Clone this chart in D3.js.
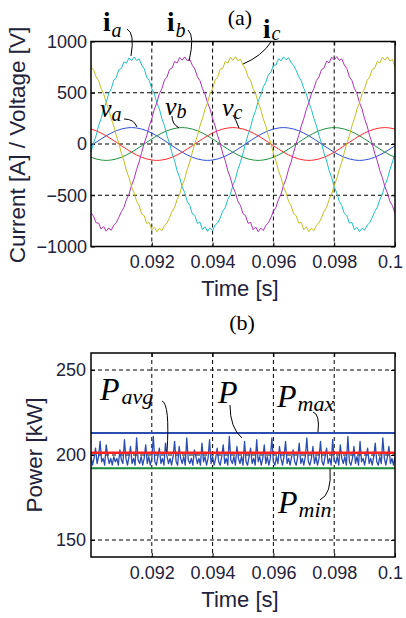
<!DOCTYPE html>
<html><head><meta charset="utf-8">
<script src="https://cdn.jsdelivr.net/npm/d3@7"></script>
<style>body{margin:0;background:#fff}svg{display:block}</style>
</head><body><svg id="c" width="406" height="618"></svg>
<script>
// ---------- data ----------
const tStart = 0.09, tEnd = 0.1;
// currents sampled 120 intervals over the window
const ia = [-80,8,80,178,248,340,402,494,540,622,
650,725,738,802,788,840,812,848,815,830,
770,735,652,620,538,490,400,342,246,178,
80,6,-92,-164,-262,-326,-420,-474,-562,-600,
-682,-698,-775,-762,-835,-808,-852,-818,-845,-790,
-770,-722,-655,-620,-540,-494,-402,-342,-246,-178,
-92,5,92,164,260,328,418,476,558,602,
676,700,768,770,832,812,850,822,842,795,
765,718,656,616,542,488,404,338,248,176,
82,4,-90,-166,-258,-328,-418,-476,-560,-602,
-680,-700,-772,-765,-838,-812,-855,-822,-840,-792,
-768,-720,-658,-618,-545,-490,-405,-340,-250,-175,
-88];
const ib = [-672,-705,-768,-772,-830,-805,-850,-820,-842,-792,
-766,-715,-660,-618,-542,-490,-404,-340,-248,-176,
-82,6,80,176,248,340,402,492,540,624,
652,728,740,805,790,845,818,850,812,826,
768,732,655,618,540,488,402,340,246,176,
80,6,-92,-164,-260,-328,-418,-476,-560,-600,
-680,-698,-774,-765,-836,-810,-855,-820,-845,-795,
-768,-720,-656,-618,-542,-490,-402,-340,-246,-176,
-80,6,82,176,250,338,405,490,542,620,
655,726,742,808,792,848,820,852,815,830,
770,735,654,620,540,490,402,340,246,176,
80,5,-90,-165,-258,-328,-416,-478,-560,-602,
-678];
const ic = [742,728,655,618,540,490,402,340,246,176,
80,6,-92,-164,-260,-328,-418,-476,-560,-600,
-682,-700,-776,-766,-838,-812,-856,-822,-846,-794,
-770,-720,-656,-618,-542,-490,-402,-340,-246,-176,
-80,6,80,176,248,340,402,492,540,624,
652,730,738,806,788,846,816,852,812,828,
768,732,655,618,540,490,402,340,246,176,
80,6,-92,-164,-260,-328,-418,-476,-560,-602,
-680,-700,-772,-766,-836,-810,-855,-822,-844,-792,
-768,-720,-656,-618,-542,-490,-404,-340,-248,-176,
-82,6,80,176,248,340,402,492,540,622,
652,728,740,805,790,848,818,850,810,826,
752];
// voltages sampled 60 intervals over the window
const va = [-17,17,49,80,107,129,146,156,160,156,146,129,107,80,49,17,-17,-49,-80,-107,-129,-146,-156,-160,-156,-146,-129,-107,-80,-49,-17,
17,49,80,107,129,146,156,160,156,146,129,107,80,49,17,-17,-49,-80,-107,-129,-146,-156,-160,-156,-146,-129,-107,-80,-49,-17];
const vb = [-129,-146,-156,-160,-156,-146,-129,-107,-80,-49,
-17,17,49,80,107,129,146,156,160,156,146,129,107,80,49,17,-17,-49,-80,-107,-129,-146,-156,-160,-156,-146,-129,-107,-80,-49,-17,
17,49,80,107,129,146,156,160,156,146,129,107,80,49,17,-17,-49,-80,-107,-129];
const vc = [146,129,107,80,49,17,-17,-49,-80,-107,-129,-146,-156,-160,-156,-146,-129,-107,-80,-49,-17,
17,49,80,107,129,146,156,160,156,146,129,107,80,49,17,-17,-49,-80,-107,-129,-146,-156,-160,-156,-146,-129,-107,-80,-49,-17,
17,49,80,107,129,146,156,160,156,146];
// power sampled 200 intervals over the window
const P = [199,194,198,204,195,199,208,196,198,194,206,199,195,198,194,199,196,
198,194,203,197,195,209,198,194,199,205,195,198,194,210,197,195,199,
194,198,206,195,199,194,198,211,196,194,199,204,195,198,194,207,199,
195,198,194,199,208,196,194,205,198,195,199,194,210,197,195,198,194,
203,199,195,198,194,207,196,199,194,198,209,195,199,194,198,204,196,
194,199,206,195,198,194,211,197,195,199,194,205,198,195,199,194,208,
196,194,199,204,195,198,194,209,196,199,194,198,206,195,199,194,198,
210,196,194,199,195,205,198,194,199,208,195,198,194,199,203,196,194,
199,207,195,198,194,199,210,196,194,198,205,195,199,194,198,208,196,
194,199,204,195,198,194,209,197,195,199,194,206,198,195,199,194,211,
196,194,198,205,195,199,194,208,196,198,194,199,204,195,198,194,199,
207,196,194,199,195,210,198,194,199,205,195,198,194,199];
const Pmax = [213, 213];
const Pavg = [201.3, 201.3];
const Pmin = [192.2, 192.2];
const xTicks = [0.092, 0.094, 0.096, 0.098, 0.1];
const xTickLabels = ["0.092", "0.094", "0.096", "0.098", "0.1"];
const yTicksA = [-1000, -500, 0, 500, 1000];
const yTicksB = [150, 200, 250];

// ---------- layout ----------
const svg = d3.select('#c');
const SANS = "'Liberation Sans', Arial, sans-serif";
const SERIF = "'Liberation Serif', 'Times New Roman', serif";
const x = d3.scaleLinear([tStart, tEnd], [91, 395]);
const yA = d3.scaleLinear([-1000, 1000], [246.5, 41.5]);
const yB = d3.scaleLinear([140, 260], [557, 353]);

function timeOf(arr) { return arr.map((_, i) => tStart + (tEnd - tStart) * i / (arr.length - 1)); }

function panel(id, y, yTicks, yPad, xPad) {
  const g = svg.append('g');
  const [yb, yt] = y.range();
  const [xl, xr] = x.range();
  g.append('clipPath').attr('id', id).append('rect')
    .attr('x', xl).attr('y', yt).attr('width', xr - xl).attr('height', yb - yt);
  // grid
  g.selectAll('line.gx').data(xTicks.filter(d => d < tEnd)).join('line')
    .attr('x1', d => x(d)).attr('x2', d => x(d)).attr('y1', yt).attr('y2', yb)
    .attr('stroke', '#000').attr('stroke-width', 1).attr('stroke-dasharray', '4,3');
  const [d0, d1] = y.domain();
  g.selectAll('line.gy').data(yTicks.filter(d => d > d0 && d < d1)).join('line')
    .attr('x1', xl).attr('x2', xr).attr('y1', d => y(d)).attr('y2', d => y(d))
    .attr('stroke', '#000').attr('stroke-width', 1).attr('stroke-dasharray', '4,3');
  // axes
  const ax = g.append('g').attr('transform', `translate(0,${yb})`)
    .call(d3.axisBottom(x).tickValues(xTicks).tickFormat((d, i) => xTickLabels[i])
      .tickSizeInner(-4).tickSizeOuter(0).tickPadding(xPad));
  ax.selectAll('.tick text').filter(d => d === tEnd).attr('dx', -5);
  const ay = g.append('g').attr('transform', `translate(${xl},0)`)
    .call(d3.axisLeft(y).tickValues(yTicks).tickFormat(d3.format('d'))
      .tickSizeInner(-4).tickSizeOuter(0).tickPadding(yPad));
  const at = g.append('g').attr('transform', `translate(0,${yt})`)
    .call(d3.axisTop(x).tickValues(xTicks).tickFormat('').tickSizeInner(-4).tickSizeOuter(0));
  const ar = g.append('g').attr('transform', `translate(${xr},0)`)
    .call(d3.axisRight(y).tickValues(yTicks).tickFormat('').tickSizeInner(-4).tickSizeOuter(0));
  [ax, ay, at, ar].forEach(a => {
    a.select('.domain').remove();
    a.attr('font-family', SANS).attr('font-size', 18);
    a.selectAll('text').attr('fill', '#22223a');
    a.selectAll('line').attr('stroke', '#000');
  });
  return g;
}

function frame(g, y) {
  const [yb, yt] = y.range();
  const [xl, xr] = x.range();
  g.append('rect').attr('x', xl).attr('y', yt).attr('width', xr - xl).attr('height', yb - yt)
    .attr('fill', 'none').attr('stroke', '#000').attr('stroke-width', 1.5);
}

function series(g, id, y, vals, color, w, curve) {
  const ts = timeOf(vals);
  const line = d3.line().x((d, i) => x(ts[i])).y(d => y(d)).curve(curve || d3.curveLinear);
  g.append('path').datum(vals).attr('d', line).attr('clip-path', `url(#${id})`)
    .attr('fill', 'none').attr('stroke', color).attr('stroke-width', w)
    .attr('stroke-linejoin', 'round');
}

function annot(g, y, a) {
  const t = g.append('text').attr('x', x(a.t)).attr('y', y(a.v))
    .attr('font-family', SERIF).attr('fill', '#000');
  t.append('tspan').text(a.main).attr('font-size', a.fs)
    .attr('font-style', a.italic ? 'italic' : 'normal').attr('font-weight', a.bold ? 'bold' : 'normal');
  t.append('tspan').text(a.sub).attr('font-size', a.ss).attr('font-style', 'italic')
    .attr('dx', a.dx).attr('dy', a.dy);
  const p = d3.path();
  p.moveTo(x(a.l[0]), y(a.l[1]));
  p.quadraticCurveTo(x(a.l[2]), y(a.l[3]), x(a.l[4]), y(a.l[5]));
  g.append('path').attr('d', p.toString()).attr('fill', 'none').attr('stroke', '#000').attr('stroke-width', 1);
}

// ---------- panel (a) ----------
const gA = panel('clipA', yA, yTicksA, 4, 9);
series(gA, 'clipA', yA, va, '#2e4fd0', 1, d3.curveMonotoneX);
series(gA, 'clipA', yA, vb, '#1f9040', 1, d3.curveMonotoneX);
series(gA, 'clipA', yA, vc, '#ff2a2a', 1, d3.curveMonotoneX);
series(gA, 'clipA', yA, ia, '#1fc0c0', 1);
series(gA, 'clipA', yA, ib, '#b030b8', 1);
series(gA, 'clipA', yA, ic, '#c0c020', 1);
frame(gA, yA);

const annA = [
  {main: 'i', sub: 'a', t: 0.090395, v: 1102, fs: 27, ss: 20, bold: true, dx: 1, dy: 6, l: [0.091184, 1122, 0.091447, 1083, 0.091316, 859]},
  {main: 'i', sub: 'b', t: 0.0925, v: 1102, fs: 27, ss: 20, bold: true, dx: 1, dy: 6, l: [0.093191, 1112, 0.093421, 1054, 0.093224, 810]},
  {main: 'i', sub: 'c', t: 0.095658, v: 1034, fs: 27, ss: 20, bold: true, dx: 1, dy: 2, l: [0.095921, 995, 0.095625, 859, 0.095, 780]},
  {main: 'v', sub: 'a', t: 0.090296, v: 263, fs: 26, ss: 20, italic: true, dx: 0, dy: 4, l: [0.091086, 244, 0.091414, 244, 0.091513, 166]},
  {main: 'v', sub: 'b', t: 0.092434, v: 283, fs: 26, ss: 20, italic: true, dx: 0, dy: 3, l: [0.092664, 273, 0.092664, 195, 0.092895, 156]},
  {main: 'v', sub: 'c', t: 0.094309, v: 273, fs: 26, ss: 20, italic: true, dx: 0, dy: 3, l: [0.094671, 283, 0.09477, 234, 0.094868, 156]}
];
annA.forEach(a => annot(svg, yA, a));

svg.append('text').attr('x', 240).attr('y', 25).attr('text-anchor', 'middle')
  .attr('font-family', SERIF).attr('font-size', 22).text('(a)');
svg.append('text').attr('x', 240).attr('y', 296).attr('text-anchor', 'middle')
  .attr('font-family', SANS).attr('font-size', 22).attr('fill', '#22223a').text('Time [s]');
svg.append('text').attr('transform', 'translate(25,145) rotate(-90)').attr('text-anchor', 'middle')
  .attr('font-family', SANS).attr('font-size', 22.5).attr('fill', '#22223a').text('Current [A] / Voltage [V]');

// ---------- panel (b) ----------
const gB = panel('clipB', yB, yTicksB, 5, 9);
series(gB, 'clipB', yB, P, '#2a4db0', 1.3);
series(gB, 'clipB', yB, Pmax, '#2a4db0', 2);
series(gB, 'clipB', yB, Pavg, '#ff2020', 2.5);
series(gB, 'clipB', yB, Pmin, '#1a8a3a', 2);
frame(gB, yB);

const annB = [
  {main: 'P', sub: 'avg', t: 0.090296, v: 232.35, fs: 32, ss: 22, italic: true, dx: 2, dy: 4, l: [0.092336, 231.8, 0.092599, 230, 0.0925, 201.8]},
  {main: 'P', sub: '', t: 0.094178, v: 230.6, fs: 32, ss: 22, italic: true, dx: 0, dy: 0, l: [0.094572, 229.4, 0.094572, 215.9, 0.094967, 210]},
  {main: 'P', sub: 'max', t: 0.096118, v: 228.2, fs: 32, ss: 22, italic: true, dx: 1, dy: 4, l: [0.097303, 225.3, 0.097533, 224.1, 0.097467, 213.5]},
  {main: 'P', sub: 'min', t: 0.096151, v: 165.9, fs: 32, ss: 22, italic: true, dx: 1, dy: 4, l: [0.097533, 173.5, 0.097928, 177.1, 0.097862, 191.8]}
];
annB.forEach(a => annot(svg, yB, a));

svg.append('text').attr('x', 242).attr('y', 330).attr('text-anchor', 'middle')
  .attr('font-family', SERIF).attr('font-size', 22).text('(b)');
svg.append('text').attr('x', 240).attr('y', 607).attr('text-anchor', 'middle')
  .attr('font-family', SANS).attr('font-size', 22).attr('fill', '#22223a').text('Time [s]');
svg.append('text').attr('transform', 'translate(42,455) rotate(-90)').attr('text-anchor', 'middle')
  .attr('font-family', SANS).attr('font-size', 22.5).attr('fill', '#22223a').text('Power [kW]');
</script>
</body></html>
